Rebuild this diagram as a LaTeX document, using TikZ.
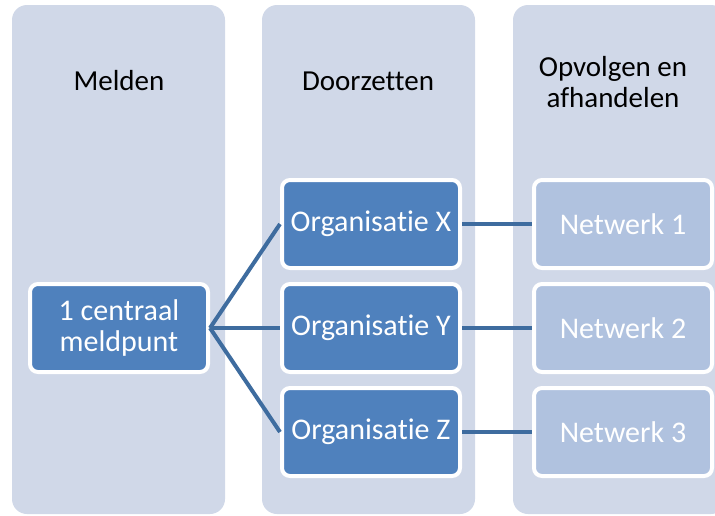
\documentclass[tikz,border=0pt]{standalone}
\usepackage{fontspec}
\setmainfont{Carlito}[Ligatures=NoCommon]
\usetikzlibrary{positioning}
\definecolor{colbg}{HTML}{D0D8E8}
\definecolor{darkbox}{HTML}{4F81BD}
\definecolor{lightbox}{HTML}{B0C2DF}
\definecolor{linkcol}{HTML}{3E6C9F}

\begin{document}
\begin{tikzpicture}[x=1pt, y=-1pt, node distance=12pt and 70pt]
\tikzset{
column/.style     = {fill=colbg, rounded corners=15pt},
title/.style      = {font=\fontsize{29}{31}\selectfont, align=center, text=black},
block/.style      = {draw=white, line width=4pt, rounded corners=8pt, fill=darkbox, text=white, minimum width=178pt, minimum height=88pt, inner sep=0pt, font=\fontsize{30}{31}\selectfont, align=center},
lightblock/.style = {block, fill=lightbox},
link/.style       = {draw=linkcol, line width=4pt},
}
    \clip (0,0) rectangle (715,515);
    \fill [white] (0,0) rectangle (715,515);

    % Columns
    \fill [column] (12,5)  rectangle (225,514);
    \fill [column] (262,5) rectangle (475,514);
    \fill [column] (513,5) rectangle (726,514);

    % Titles
    \node [title] (melden)     at (119,81) {Melden};
    \node [title] (doorzetten) at (368,81) {Doorzetten};
    \node [title] (opvolgen)   at (613,82) {Opvolgen en\\afhandelen};

    % Main nodes
    \node [block]                      (meldpunt)  at (119,328) {1 centraal\\meldpunt};
    \node [block, right=of meldpunt]   (orgy)      {Organisatie Y};
    \node [block, above=of orgy]       (orgx)      {Organisatie X};
    \node [block, below=of orgy]       (orgz)      {Organisatie Z};
    \node [lightblock, right=of orgx]  (netwerk1)  {Netwerk 1};
    \node [lightblock, right=of orgy]  (netwerk2)  {Netwerk 2};
    \node [lightblock, right=of orgz]  (netwerk3)  {Netwerk 3};

    % Main edges
    \draw [link]  (meldpunt.east)  --  (orgx.west);
    \draw [link]  (meldpunt.east)  --  (orgy.west);
    \draw [link]  (meldpunt.east)  --  (orgz.west);
    \draw [link]  (orgx)           --  (netwerk1);
    \draw [link]  (orgy)           --  (netwerk2);
    \draw [link]  (orgz)           --  (netwerk3);

\end{tikzpicture}
\end{document}
